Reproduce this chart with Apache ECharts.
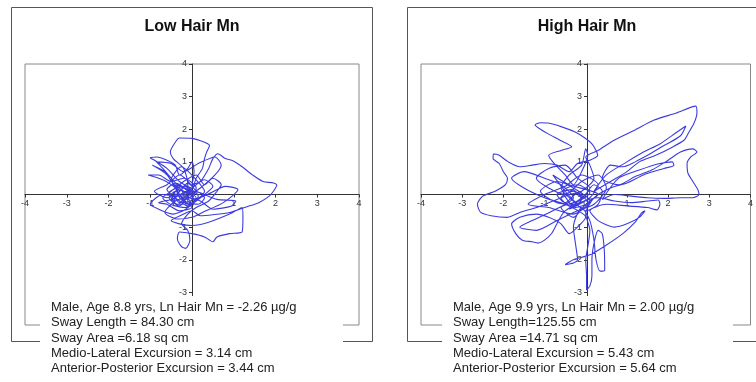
<!DOCTYPE html>
<html>
<head>
<meta charset="utf-8">
<script src="https://cdn.jsdelivr.net/npm/echarts@6/dist/echarts.min.js"></script>
<style>
html,body{margin:0;padding:0;background:#fff;}
#chart{width:756px;height:382px;}
</style>
</head>
<body>
<div id="chart"></div>
<script>
// ---------- data ----------
const titles = ["Low Hair Mn", "High Hair Mn"];
const axisTicks = [-4, -3, -2, -1, 0, 1, 2, 3, 4];

const lowInfo = [
  "Male, Age 8.8 yrs, Ln Hair Mn = -2.26 µg/g",
  "Sway Length = 84.30 cm",
  "Sway Area =6.18 sq cm",
  "Medio-Lateral Excursion = 3.14 cm",
  "Anterior-Posterior Excursion = 3.44 cm"
];
const highInfo = [
  "Male, Age 9.9 yrs, Ln Hair Mn = 2.00 µg/g",
  "Sway Length=125.55 cm",
  "Sway Area =14.71 sq cm",
  "Medio-Lateral Excursion = 5.43 cm",
  "Anterior-Posterior Excursion = 5.64 cm"
];

// sway path, low hair Mn (x = ML cm, y = AP cm)
const lowPath = [
  [0,0],[-0.2,0.1],[-0.4,0.3],[-0.3,-0.1],[-0.1,-0.3],[0.1,0.2],[-0.2,0.5],[-0.5,0.4],[-0.8,0.6],[-1.05,0.6],
  [-0.7,0.45],[-0.4,0.2],[-0.2,-0.2],[0,-0.4],[-0.3,-0.5],[-0.6,-0.3],[-0.8,-0.25],[-0.5,-0.15],[-0.2,0.05],[0.1,0.1],
  [0.3,-0.1],[0.15,-0.3],[-0.1,-0.2],
  [-0.1,0.3],[-0.2,0.8],[-0.45,1.1],[-0.52,1.3],[-0.4,1.6],[-0.3,1.73],[0,1.72],[0.3,1.6],[0.42,1.5],[0.35,1.3],
  [0.3,1.1],[0.25,0.8],[0.1,0.5],[0,0.2],
  [-0.3,0.4],[-0.6,0.8],[-0.9,1.05],[-1.0,1.12],[-0.85,1.15],[-0.6,1.05],[-0.4,0.9],[-0.3,0.6],[-0.1,0.8],
  [0,1.0],[0.05,0.7],[0,0.3],
  [0.2,0.4],[0.4,0.8],[0.5,1.1],[0.62,1.25],[0.8,1.1],[0.95,1.05],[1.05,0.98],[1.2,0.85],[1.45,0.6],[1.7,0.4],
  [1.95,0.35],[2.03,0.28],[1.95,0.1],[1.85,-0.05],[1.6,-0.25],[1.3,-0.38],[0.9,-0.55],[0.5,-0.62],[0.2,-0.65],[0,-0.5],
  [-0.2,-0.6],[-0.5,-0.8],[-0.3,-0.9],[0,-0.95],[0.4,-0.85],[0.9,-0.6],[1.2,-0.4],[1.22,-0.7],[1.2,-1.15],[0.9,-1.2],
  [0.6,-1.3],[0.5,-1.45],[0.3,-1.3],[0,-1.2],[-0.3,-1.15],[-0.35,-1.35],[-0.25,-1.6],[-0.15,-1.65],[-0.05,-1.4],
  [-0.1,-1.1],[-0.25,-0.9],[-0.1,-0.6],[0.1,-0.4],
  [0.4,-0.2],[0.6,0.1],[0.7,0.3],[0.5,0.5],[0.3,0.3],[0.1,0.6],[-0.2,0.4],[-0.5,0.1],[-0.7,-0.1],[-0.4,-0.35],
  [-0.1,-0.1],[0.2,-0.2],[0.5,-0.45],[0.95,-0.35],[1.05,-0.2],[0.6,-0.15],[0.2,0.05],[-0.3,0.25],[-0.7,0.8],
  [-0.85,1.0],[-0.5,0.95],[-0.2,0.7],[0.15,0.95],[0.55,1.15],[0.7,0.9],[0.55,0.6],[0.2,0.2],[-0.1,-0.05],
  [-0.4,-0.2],[-0.65,-0.55],[-0.35,-0.75],[0,-0.7],[0.25,-0.55],[0.75,-0.25],[1.1,0.15],[0.8,0.25],[0.45,0.05],
  [0.05,-0.15],[-0.25,0.15],[-0.1,0.35],[0.1,0.1],[-0.3,0.6],[-0.6,0.3],[-0.9,0.1],[-0.6,-0.1],[-0.3,0.1],
  [-0.5,0.45],[-0.25,0.85],[0.1,0.45],[0.3,0.1],[0,-0.25],[-0.35,-0.3],[-0.55,0.05],[-0.2,0.25],[0.15,-0.05],
  [-0.15,-0.45],[-0.45,-0.6],[-0.8,-0.45],[-1.0,-0.3],[-0.7,0.0],[-0.4,-0.05],[-0.05,0.15],[0.3,0.45],[0.5,0.25],
  [0.25,-0.05],[-0.05,-0.3],[-0.3,0.0],[-0.6,0.6],[-0.95,0.9],[-0.65,0.7],[-0.35,0.3],[0,0.05],
  [-0.2,-0.1],[-0.45,0.05],[-0.3,-0.25],[-0.05,-0.2],[-0.25,0.0],[-0.5,-0.2],[-0.35,0.15],[-0.1,0.0],[-0.3,-0.35],
  [-0.55,-0.1],[-0.4,0.1],[-0.15,-0.15],[0.05,0.05],[-0.2,0.2],[-0.45,-0.3],[-0.15,-0.4],[0.05,-0.2],[-0.1,0.1],
  [-0.4,0.35],[-0.6,0.15],[-0.35,-0.15],[-0.1,-0.35],[0.1,-0.1],[-0.15,0.15],[0,0]
];

// sway path, high hair Mn
const highPath = [
  [0,0],[0.2,0.3],[0.4,0.1],[0.3,-0.3],[0,-0.5],[-0.3,-0.2],[-0.6,0.2],[-0.4,0.6],[-0.1,0.9],[0,1.4],[0.05,1.2],
  [-0.1,0.7],[-0.3,0.3],
  [-0.5,0.6],[-0.8,1.0],[-0.9,1.2],[-0.6,1.35],[-0.34,1.46],[-0.6,1.65],[-0.9,1.85],[-1.1,2.0],[-1.23,2.13],
  [-1.1,2.2],[-0.92,2.19],[-0.6,2.08],[-0.27,1.92],[-0.02,1.73],[0.15,1.55],[0.25,1.35],[0.29,1.2],[0.1,1.05],
  [-0.2,0.95],[-0.4,0.7],
  [-0.7,0.9],[-1.0,0.95],[-1.3,0.9],[-1.6,0.85],[-1.88,1.0],[-2.1,1.2],[-2.24,1.24],[-2.25,1.1],[-2.1,0.95],
  [-2.0,0.7],[-1.9,0.5],[-1.95,0.3],[-2.2,0.1],[-2.5,-0.05],[-2.63,-0.3],[-2.55,-0.55],[-2.3,-0.65],[-1.9,-0.7],
  [-1.6,-0.55],[-1.2,-0.4],[-0.8,-0.2],[-0.4,0],[-0.1,0.1],
  [0.2,0.5],[0.1,0.9],[0,1.15],[0.3,1.35],[0.7,1.67],[1.2,1.98],[1.66,2.28],[2.2,2.5],[2.67,2.71],[2.7,2.5],
  [2.63,2.19],[2.5,1.9],[2.39,1.67],[2.1,1.45],[1.7,1.2],[1.3,1.0],[1.0,0.7],[0.6,0.4],[0.2,0.1],
  [0.5,0.6],[1.0,1.0],[1.4,1.3],[1.8,1.55],[2.2,1.9],[2.43,2.1],[2.3,1.8],[1.9,1.5],[1.5,1.2],[1.2,1.0],
  [0.9,0.85],[0.6,0.9],[0.4,0.5],
  [0.8,0.3],[1.2,0.55],[1.6,0.75],[2.0,1.05],[2.3,1.3],[2.6,1.4],[2.7,1.3],[2.55,1.15],[2.46,0.95],[2.48,0.66],
  [2.6,0.4],[2.72,0.15],[2.75,0.0],[2.6,-0.1],[2.3,-0.1],[1.9,-0.12],[1.5,-0.1],[1.1,-0.05],[0.7,0],[0.4,-0.15],
  [0.8,0.5],[1.3,0.75],[1.8,0.95],[2.1,1.0],[2.14,0.9],[1.9,0.8],[1.4,0.6],[1.0,0.35],[0.6,0.2],[0.2,-0.1],
  [0,-0.6],[0.1,-1.1],[0.05,-1.6],[0.0,-2.0],[0.02,-2.5],[0.02,-2.93],[0.1,-2.8],[0.15,-2.5],[0.15,-2.0],
  [0.2,-1.5],[0.3,-1.1],[0.4,-1.2],[0.45,-1.7],[0.46,-2.32],[0.35,-2.35],[0.25,-2.0],[0.2,-1.4],[0.1,-0.8],[-0.1,-0.4],
  [-0.3,-1.0],[-0.25,-1.5],[-0.2,-2.0],[-0.3,-2.1],[-0.5,-2.15],[-0.3,-2.0],[0.1,-1.85],[0.5,-1.55],[0.9,-1.2],
  [1.2,-0.85],[1.35,-0.57],[1.44,-0.5],[1.3,-0.7],[1.0,-0.9],[0.7,-1.0],[0.3,-0.8],[0.1,-0.5],
  [0.5,-0.3],[1.0,-0.35],[1.5,-0.4],[1.73,-0.47],[1.8,-0.3],[1.76,-0.17],[1.5,-0.2],[1.1,-0.25],[0.7,-0.2],[0.3,-0.1],
  [-0.5,-0.5],[-0.82,-1.18],[-1.0,-1.4],[-1.16,-1.49],[-1.3,-1.45],[-1.54,-1.4],[-1.7,-1.2],[-1.8,-0.9],[-1.6,-0.7],
  [-1.2,-0.6],[-0.9,-0.7],[-0.6,-0.9],[-0.4,-1.2],[-0.2,-1.0],[0,-0.7],
  [-0.5,-0.3],[-1.0,-0.1],[-1.5,0.2],[-1.8,0.5],[-1.5,0.7],[-1.0,0.5],[-0.6,0.3],[-0.3,-0.1],[-0.8,-0.5],
  [-1.3,-0.8],[-1.6,-1.0],[-1.2,-1.1],[-0.7,-0.8],[-0.2,-0.5],[0.2,-0.3],[0.5,0.2],[0.3,0.6],[-0.1,0.4],
  [-0.5,0.0],[-0.9,0.2],[-1.2,0.5],[-0.9,0.8],[-0.5,0.9],[-0.2,0.5],[0.1,0.2],[-0.2,-0.2],[-0.6,-0.4],
  [-0.3,-0.7],[0,-0.3],[0.3,0.0],[-0.4,0.3],[-0.8,0.6],[-0.5,0.1],[-0.2,-0.3],[-0.7,-0.25],[-1.1,0.1],
  [-0.7,0.4],[-0.3,0.2],[0.1,-0.2],[-0.3,-0.6],[-0.9,-0.4],[-1.4,-0.3],[-1.0,0.0],[-0.5,0.25],[-0.1,0.6],
  [0.3,0.3],[0.1,-0.1],[-0.4,-0.45],[-0.1,-0.15],
  [-0.3,0.1],[-0.6,-0.1],[-0.4,-0.35],[-0.1,-0.1],[-0.35,0.15],[-0.7,0.0],[-0.5,-0.25],[-0.2,0.05],[0.05,-0.25],
  [-0.25,-0.4],[-0.55,0.1],[-0.2,0.3],[0.1,0.05],[-0.15,-0.2],[0,0]
];

// ---------- chart ----------
const FONT = '"Liberation Sans", Arial, sans-serif';
const lineColor = '#3b3be0';
const panels = [
  {grid: {left: 25, top: 64, width: 334, height: 261}, box: [11, 7, 361, 334], mask: [40, 296, 303, 86], textX: 51, titleX: 192, path: lowPath, info: lowInfo},
  {grid: {left: 421, top: 64, width: 332, height: 261}, box: [407, 7, 400, 334], mask: [442, 296, 291, 86], textX: 453, titleX: 587, path: highPath, info: highInfo}
];

const axisCommon = {
  type: 'value',
  min: axisTicks[0],
  max: axisTicks[axisTicks.length - 1],
  interval: 1,
  axisTick: {show: true, length: 3, lineStyle: {color: '#333'}},
  axisLabel: {fontSize: 9, color: '#333', fontFamily: FONT, margin: 5, showMinLabel: true, showMaxLabel: true},
  splitLine: {show: false}
};

const graphics = [];
panels.forEach((p, i) => {
  graphics.push({
    type: 'rect', z: 50,
    shape: {x: p.box[0] + 0.5, y: p.box[1] + 0.5, width: p.box[2], height: p.box[3]},
    style: {fill: null, stroke: '#555', lineWidth: 1}
  });
  graphics.push({
    type: 'rect', z: 100,
    shape: {x: p.mask[0], y: p.mask[1], width: p.mask[2], height: p.mask[3]},
    style: {fill: '#fff', stroke: null}
  });
  graphics.push({
    type: 'text', z: 101, x: p.textX, y: 299.5,
    style: {text: p.info.join('\n'), font: '13px ' + FONT, fill: '#222', lineHeight: 15.4, textVerticalAlign: 'top'}
  });
  graphics.push({
    type: 'text', z: 101, x: p.titleX, y: 27,
    style: {text: titles[i], font: 'bold 16px ' + FONT, fill: '#111', textAlign: 'center', textVerticalAlign: 'middle'}
  });
});

const chart = echarts.init(document.getElementById('chart'), null, {renderer: 'canvas'});
// axes placed through the origin by offsetting from the grid edge (half the grid size)
chart.setOption({
  animation: false,
  backgroundColor: '#fff',
  grid: panels.map(p => Object.assign({show: true, borderColor: '#888', borderWidth: 1, backgroundColor: 'transparent'}, p.grid)),
  xAxis: panels.map((p, i) => Object.assign({
    gridIndex: i, position: 'bottom', offset: -p.grid.height / 2,
    axisLine: {show: true, onZero: false, lineStyle: {color: '#333', width: 1}}
  }, axisCommon)),
  yAxis: panels.map((p, i) => Object.assign({
    gridIndex: i, position: 'left', offset: -p.grid.width / 2,
    axisLine: {show: true, onZero: false, lineStyle: {color: '#333', width: 1}}
  }, axisCommon)),
  series: panels.map((p, i) => ({
    type: 'line',
    xAxisIndex: i, yAxisIndex: i,
    data: p.path,
    showSymbol: false,
    smooth: 0.25,
    lineStyle: {color: lineColor, width: 1.1},
    z: 3
  })),
  graphic: graphics
});
</script>
</body>
</html>
